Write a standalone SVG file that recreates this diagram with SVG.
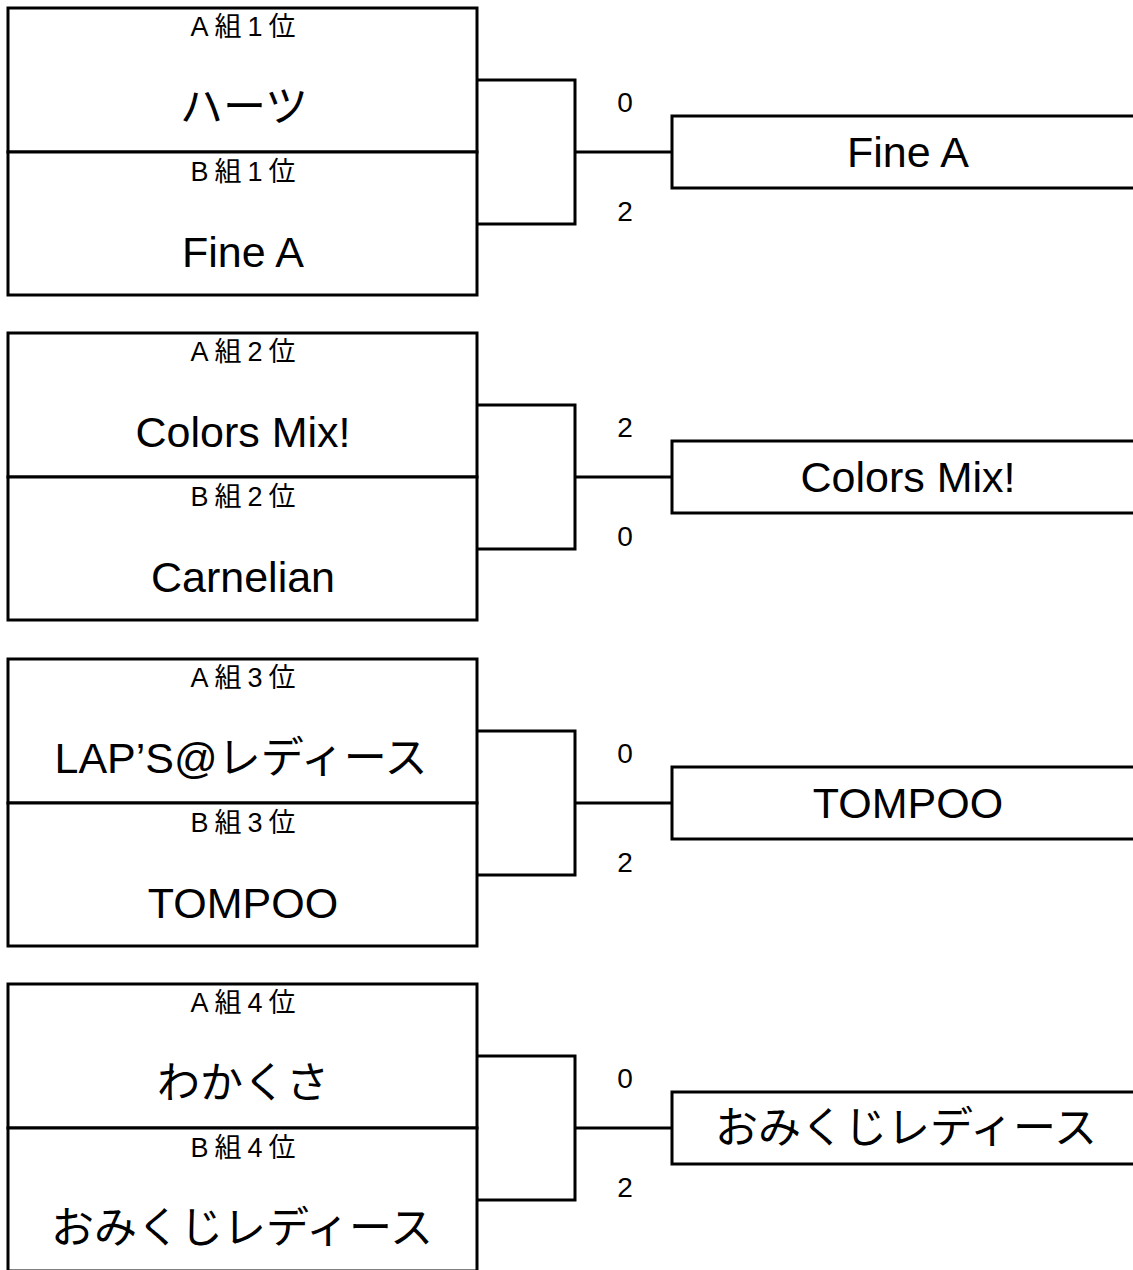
<svg xmlns="http://www.w3.org/2000/svg" width="1133" height="1270" viewBox="0 0 1133 1270">
<style>
text{font-family:"Liberation Sans","Noto Sans CJK JP",sans-serif;fill:#000;text-anchor:middle}
.box{fill:#fff;stroke:#000;stroke-width:3}
.ln{fill:none;stroke:#000;stroke-width:3}
.lbl{font-size:27px;letter-spacing:6px}
.nm{font-size:43px}
.sc{font-family:"Liberation Sans Narrow","Liberation Sans",sans-serif;font-size:28px}
</style>
<rect width="1133" height="1270" fill="#fff"/>
<g id="connectors">
  <g transform="translate(0,8)">
    <path class="ln" d="M477,72H575V216H477M575,144H672"/>
    <text class="sc" x="625" y="104">0</text>
    <text class="sc" x="625" y="213">2</text>
  </g>
  <g transform="translate(0,333)">
    <path class="ln" d="M477,72H575V216H477M575,144H672"/>
    <text class="sc" x="625" y="104">2</text>
    <text class="sc" x="625" y="213">0</text>
  </g>
  <g transform="translate(0,659)">
    <path class="ln" d="M477,72H575V216H477M575,144H672"/>
    <text class="sc" x="625" y="104">0</text>
    <text class="sc" x="625" y="213">2</text>
  </g>
  <g transform="translate(0,984)">
    <path class="ln" d="M477,72H575V216H477M575,144H672"/>
    <text class="sc" x="625" y="104">0</text>
    <text class="sc" x="625" y="213">2</text>
  </g>
</g>
<g id="match1" transform="translate(0,8)">
  <g id="team-a1"><rect class="box" x="8" y="0" width="469" height="144"/><text class="lbl" x="246" y="28">A組1位</text><text class="nm" x="244" y="114">ハーツ</text></g>
  <g id="team-b1"><rect class="box" x="8" y="144" width="469" height="143"/><text class="lbl" x="246" y="173">B組1位</text><text class="nm" x="243" y="259">Fine A</text></g>
  <g id="winner1"><rect class="box" x="672" y="108" width="480" height="72"/><text class="nm" x="908" y="159">Fine A</text></g>
</g>
<g id="match2" transform="translate(0,333)">
  <g id="team-a2"><rect class="box" x="8" y="0" width="469" height="144"/><text class="lbl" x="246" y="28">A組2位</text><text class="nm" x="243" y="114">Colors Mix!</text></g>
  <g id="team-b2"><rect class="box" x="8" y="144" width="469" height="143"/><text class="lbl" x="246" y="173">B組2位</text><text class="nm" x="243" y="259">Carnelian</text></g>
  <g id="winner2"><rect class="box" x="672" y="108" width="480" height="72"/><text class="nm" x="908" y="159">Colors Mix!</text></g>
</g>
<g id="match3" transform="translate(0,659)">
  <g id="team-a3"><rect class="box" x="8" y="0" width="469" height="144"/><text class="lbl" x="246" y="28">A組3位</text><text class="nm" x="241" y="114">LAP’S@レディース</text></g>
  <g id="team-b3"><rect class="box" x="8" y="144" width="469" height="143"/><text class="lbl" x="246" y="173">B組3位</text><text class="nm" x="243" y="259">TOMPOO</text></g>
  <g id="winner3"><rect class="box" x="672" y="108" width="480" height="72"/><text class="nm" x="908" y="159">TOMPOO</text></g>
</g>
<g id="match4" transform="translate(0,984)">
  <g id="team-a4"><rect class="box" x="8" y="0" width="469" height="144"/><text class="lbl" x="246" y="28">A組4位</text><text class="nm" x="243" y="114">わかくさ</text></g>
  <g id="team-b4"><rect class="box" x="8" y="144" width="469" height="143"/><text class="lbl" x="246" y="173">B組4位</text><text class="nm" x="242" y="259">おみくじレディース</text></g>
  <g id="winner4"><rect class="box" x="672" y="108" width="480" height="72"/><text class="nm" x="906" y="159">おみくじレディース</text></g>
</g>
</svg>
